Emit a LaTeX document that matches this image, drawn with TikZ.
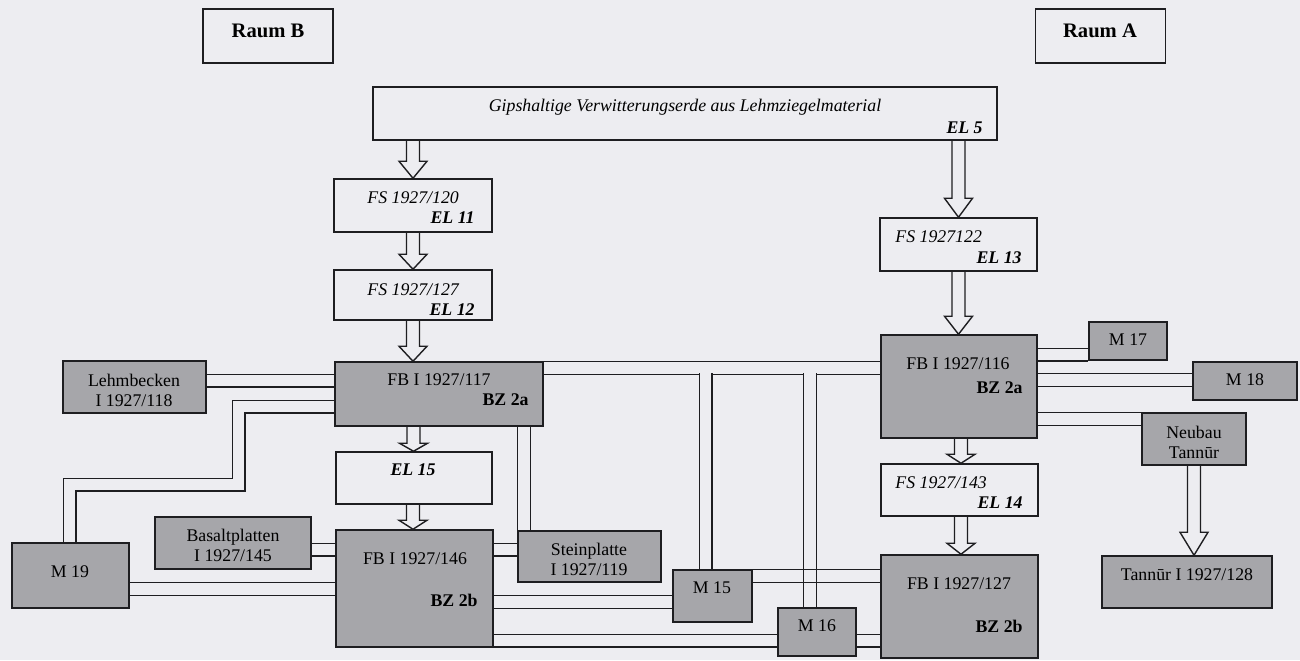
\documentclass[tikz,border=0pt]{standalone}
\usepackage{fontspec}
\setmainfont{Liberation Serif}
\usepackage{tikz}
\usetikzlibrary{calc, backgrounds}
\definecolor{bgc}{RGB}{237,237,241}
\definecolor{boxgray}{RGB}{166,166,170}
\definecolor{linec}{RGB}{30,30,33}
\tikzset{
  wbox/.style={draw=linec, line width=0.75pt, fill=bgc, inner sep=0pt},
  gbox/.style={wbox, fill=boxgray},
  lbl/.style={inner sep=0pt, font=\fontsize{8.9}{10}\selectfont, align=center},
  pipe/.style={draw=linec, line width=0.7pt, double=bgc, double distance=5.6pt},
  hollow/.style={draw=linec, line width=0.7pt}
}
% hollow arrow: x (px), from node, to node, head length (px)
\newcommand{\fatarrow}[4]{%
  \draw[hollow] let \p1=(#2.south), \p2=(#3.north) in
    ({#1*0.5pt-3.25pt},\y1) -- ({#1*0.5pt-3.25pt},{\y2+#4*0.5pt})
    -- ({#1*0.5pt-7pt},{\y2+#4*0.5pt}) -- ({#1*0.5pt},\y2)
    -- ({#1*0.5pt+7pt},{\y2+#4*0.5pt}) -- ({#1*0.5pt+3.25pt},{\y2+#4*0.5pt})
    -- ({#1*0.5pt+3.25pt},\y1);
}
\begin{document}
\begin{tikzpicture}[x=0.5pt, y=-0.5pt]
  \useasboundingbox (0,0) rectangle (1300,660);
  \begin{scope}[on background layer]
    \fill[bgc] (0,0) rectangle (1300,660);
  \end{scope}

  % Raum B / Raum A
  \node[wbox, minimum width=65pt, minimum height=27pt] (raumB) at (268,36) {};
  \node[wbox, minimum width=65pt, minimum height=27pt] (raumA) at (1100.5,36) {};
  \node[lbl, font=\fontsize{10.3}{12}\selectfont\bfseries] (raumBt) at (268,31) {Raum B};
  \node[lbl, font=\fontsize{10.3}{12}\selectfont\bfseries] (raumAt) at (1100,31) {Raum A};

  % top
  \node[wbox, minimum width=312pt, minimum height=26.5pt] (gips) at (685,113.5) {};
  \node[lbl] (gipst) at (685,107) {\itshape Gipshaltige Verwitterungserde aus Lehmziegelmaterial};
  \node[lbl, anchor=east] (gipsel) at (983,128) {\bfseries\itshape EL 5};

  % Raum B column
  \node[wbox, minimum width=79pt, minimum height=26.5pt] (fs120) at (413,205.5) {};
  \node[lbl, anchor=west] (fs120t) at (367,198) {\itshape FS 1927/120};
  \node[lbl, anchor=east] (fs120el) at (475,218) {\bfseries\itshape EL 11};
  \node[wbox, minimum width=79pt, minimum height=25pt] (fs127) at (413,295) {};
  \node[lbl, anchor=west] (fs127t) at (367,290) {\itshape FS 1927/127};
  \node[lbl, anchor=east] (fs127el) at (475,310) {\bfseries\itshape EL 12};
  \node[gbox, minimum width=104pt, minimum height=32pt] (fb117) at (439,394) {};
  \node[lbl] (fb117t) at (439,380) {FB I 1927/117};
  \node[lbl, anchor=east] (fb117bz) at (529,400) {\bfseries BZ 2a};
  \node[wbox, minimum width=78pt, minimum height=26pt] (el15) at (414,478) {};
  \node[lbl] (el15t) at (413,470) {\bfseries\itshape EL 15};
  \node[gbox, minimum width=78.5pt, minimum height=58.5pt] (fb146) at (414.5,588.5) {};
  \node[lbl] (fb146t) at (415,559) {FB I 1927/146};
  \node[lbl, anchor=east] (fb146bz) at (478,600) {\bfseries BZ 2b};

  \node[gbox, minimum width=71.5pt, minimum height=26pt] (lehm) at (134.5,387) {};
  \node[lbl] (lehmt) at (134,390) {Lehmbecken\\I 1927/118};
  \node[gbox, minimum width=78pt, minimum height=26pt] (basalt) at (233,543) {};
  \node[lbl] (basaltt) at (233,545) {Basaltplatten\\I 1927/145};
  \node[gbox, minimum width=71.5pt, minimum height=25.5pt] (stein) at (589.5,556.5) {};
  \node[lbl] (steint) at (589,559) {Steinplatte\\I 1927/119};
  \node[gbox, minimum width=58.5pt, minimum height=32.5pt] (m19) at (70.5,575.5) {};
  \node[lbl] (m19t) at (70,572) {M 19};
  \node[gbox, minimum width=39.5pt, minimum height=26pt] (m15) at (712.5,596) {};
  \node[lbl] (m15t) at (712,588) {M 15};
  \node[gbox, minimum width=39pt, minimum height=24pt] (m16) at (817,632) {};
  \node[lbl] (m16t) at (817,626) {M 16};

  % Raum A column
  \node[wbox, minimum width=78.5pt, minimum height=26.5pt] (fs122) at (958.5,244.5) {};
  \node[lbl, anchor=west] (fs122t) at (895,237) {\itshape FS 1927122};
  \node[lbl, anchor=east] (fs122el) at (1022,258) {\bfseries\itshape EL 13};
  \node[gbox, minimum width=78pt, minimum height=51.5pt] (fb116) at (959,386.5) {};
  \node[lbl] (fb116t) at (958,364) {FB I 1927/116};
  \node[lbl, anchor=east] (fb116bz) at (1023,388) {\bfseries BZ 2a};
  \node[wbox, minimum width=78.5pt, minimum height=26pt] (fs143) at (959.5,490) {};
  \node[lbl, anchor=west] (fs143t) at (895,483) {\itshape FS 1927/143};
  \node[lbl, anchor=east] (fs143el) at (1023,503) {\bfseries\itshape EL 14};
  \node[gbox, minimum width=78.5pt, minimum height=51.5pt] (fb127) at (959.5,606.5) {};
  \node[lbl] (fb127t) at (959,584) {FB I 1927/127};
  \node[lbl, anchor=east] (fb127bz) at (1023,626) {\bfseries BZ 2b};

  \node[gbox, minimum width=39pt, minimum height=19pt] (m17) at (1128,341) {};
  \node[lbl] (m17t) at (1128,340) {M 17};
  \node[gbox, minimum width=52pt, minimum height=19pt] (m18) at (1245,381) {};
  \node[lbl] (m18t) at (1245,380) {M 18};
  \node[gbox, minimum width=52pt, minimum height=26pt] (neubau) at (1194,439) {};
  \node[lbl] (neubaut) at (1194,442) {Neubau\\Tannūr};
  \node[gbox, minimum width=85pt, minimum height=26pt] (tannur) at (1187,582) {};
  \node[lbl] (tannurt) at (1187,575) {Tannūr I 1927/128};

  % hollow arrows
  \fatarrow{413}{gips}{fs120}{17}
  \fatarrow{413}{fs120}{fs127}{15}
  \fatarrow{413}{fs127}{fb117}{15}
  \fatarrow{413.5}{fb117}{el15}{8}
  \fatarrow{413}{el15}{fb146}{9}
  \fatarrow{958.5}{gips}{fs122}{19}
  \fatarrow{958.5}{fs122}{fb116}{18}
  \fatarrow{961}{fb116}{fs143}{9}
  \fatarrow{961}{fs143}{fb127}{11}
  \fatarrow{1194}{neubau}{tannur}{23}

  % double-line connectors
  \begin{scope}[on background layer]
    \draw[pipe] (lehm.east |- 0,380.5) -- (fb117.west |- 0,380.5);
    \draw[pipe] (fb117.west |- 0,406.5) -- (238.5,406.5) -- (238.5,484.5)
      -- (69.5,484.5) -- (69.5,0 |- m19.north);
    \draw[pipe] (basalt.east |- 0,549.5) -- (fb146.west |- 0,549.5);
    \draw[pipe] (m19.east |- 0,589) -- (fb146.west |- 0,589);
    \draw[pipe] (fb146.east |- 0,549.5) -- (stein.west |- 0,549.5);
    \draw[pipe] (fb146.east |- 0,602) -- (m15.west |- 0,602);
    \draw[pipe] (fb146.east |- 0,640.5) -- (m16.west |- 0,640.5);
    \draw[pipe] (fb117.east |- 0,368) -- (fb116.west |- 0,368);
    \draw[pipe] (705.5,373) -- (705.5,0 |- m15.north);
    \draw[pipe] (810,373) -- (810,0 |- m16.north);
    \draw[pipe] (524,0 |- fb117.south) -- (524,0 |- stein.north);
    \draw[linec, line width=0.7pt] (m15.east |- 0,569.7) -- (fb127.west |- 0,569.7)
      (m15.east |- 0,582.3) -- (fb127.west |- 0,582.3);
    \draw[pipe] (m16.east |- 0,640.5) -- (fb127.west |- 0,640.5);
    \draw[pipe] (fb116.east |- 0,354.5) -- (m17.west |- 0,354.5);
    \draw[pipe] (fb116.east |- 0,380) -- (m18.west |- 0,380);
    \draw[pipe] (fb116.east |- 0,419) -- (neubau.west |- 0,419);
  \end{scope}
\end{tikzpicture}
\end{document}
